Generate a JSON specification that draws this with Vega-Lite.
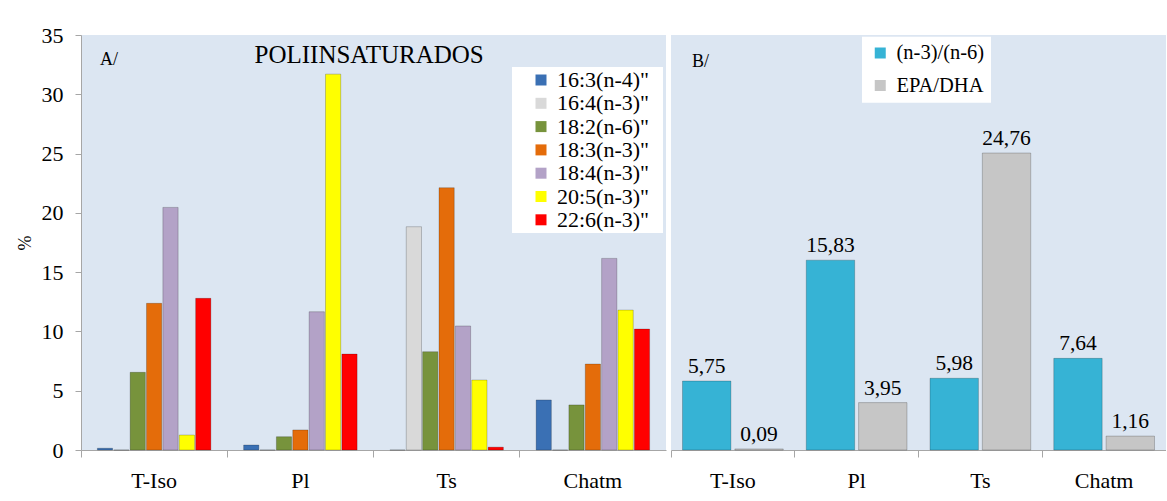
{
  "$schema": "https://vega.github.io/schema/vega-lite/v6.json",
  "padding": {"left": 16, "top": 24, "right": 0, "bottom": 0},
  "background": "white",
  "spacing": 4,
  "config": {
    "font": "Liberation Serif",
    "view": {"fill": "#dce6f2", "stroke": null},
    "locale": {"number": {"decimal": ",", "thousands": ".", "grouping": [3], "currency": ["", " €"]}},
    "axis": {"labelFont": "Liberation Serif", "labelFontSize": 22, "labelColor": "black", "domainColor": "#a6a6a6", "tickColor": "#a6a6a6", "grid": false, "titleFont": "Liberation Serif", "titleColor": "black"},
    "legend": {"labelFont": "Liberation Serif", "labelColor": "black"}
  },
  "resolve": {"scale": {"color": "independent", "y": "independent", "x": "independent", "xOffset": "independent"}},
  "datasets": {
    "acids": [
      {"sample": "T-Iso", "acid": "16:3(n-4)\"", "pct": 0.15},
      {"sample": "T-Iso", "acid": "16:4(n-3)\"", "pct": 0},
      {"sample": "T-Iso", "acid": "18:2(n-6)\"", "pct": 6.55},
      {"sample": "T-Iso", "acid": "18:3(n-3)\"", "pct": 12.37},
      {"sample": "T-Iso", "acid": "18:4(n-3)\"", "pct": 20.46},
      {"sample": "T-Iso", "acid": "20:5(n-3)\"", "pct": 1.26},
      {"sample": "T-Iso", "acid": "22:6(n-3)\"", "pct": 12.79},
      {"sample": "Pl", "acid": "16:3(n-4)\"", "pct": 0.42},
      {"sample": "Pl", "acid": "16:4(n-3)\"", "pct": 0},
      {"sample": "Pl", "acid": "18:2(n-6)\"", "pct": 1.12},
      {"sample": "Pl", "acid": "18:3(n-3)\"", "pct": 1.69},
      {"sample": "Pl", "acid": "18:4(n-3)\"", "pct": 11.66},
      {"sample": "Pl", "acid": "20:5(n-3)\"", "pct": 31.7},
      {"sample": "Pl", "acid": "22:6(n-3)\"", "pct": 8.09},
      {"sample": "Ts", "acid": "16:3(n-4)\"", "pct": 0},
      {"sample": "Ts", "acid": "16:4(n-3)\"", "pct": 18.83},
      {"sample": "Ts", "acid": "18:2(n-6)\"", "pct": 8.29},
      {"sample": "Ts", "acid": "18:3(n-3)\"", "pct": 22.12},
      {"sample": "Ts", "acid": "18:4(n-3)\"", "pct": 10.46},
      {"sample": "Ts", "acid": "20:5(n-3)\"", "pct": 5.9},
      {"sample": "Ts", "acid": "22:6(n-3)\"", "pct": 0.24},
      {"sample": "Chatm", "acid": "16:3(n-4)\"", "pct": 4.22},
      {"sample": "Chatm", "acid": "16:4(n-3)\"", "pct": 0},
      {"sample": "Chatm", "acid": "18:2(n-6)\"", "pct": 3.8},
      {"sample": "Chatm", "acid": "18:3(n-3)\"", "pct": 7.25},
      {"sample": "Chatm", "acid": "18:4(n-3)\"", "pct": 16.16},
      {"sample": "Chatm", "acid": "20:5(n-3)\"", "pct": 11.8},
      {"sample": "Chatm", "acid": "22:6(n-3)\"", "pct": 10.2}
    ],
    "ratios": [
      {"sample": "T-Iso", "ratio": "(n-3)/(n-6)", "value": 5.75},
      {"sample": "T-Iso", "ratio": "EPA/DHA", "value": 0.09},
      {"sample": "Pl", "ratio": "(n-3)/(n-6)", "value": 15.83},
      {"sample": "Pl", "ratio": "EPA/DHA", "value": 3.95},
      {"sample": "Ts", "ratio": "(n-3)/(n-6)", "value": 5.98},
      {"sample": "Ts", "ratio": "EPA/DHA", "value": 24.76},
      {"sample": "Chatm", "ratio": "(n-3)/(n-6)", "value": 7.64},
      {"sample": "Chatm", "ratio": "EPA/DHA", "value": 1.16}
    ]
  },
  "hconcat": [
    {
      "width": 585,
      "height": 415,
      "layer": [
        {
          "data": {"name": "acids"},
          "mark": {"type": "bar", "strokeWidth": 0.6, "strokeOpacity": 0.35, "stroke": "#000000"},
          "encoding": {
            "x": {"field": "sample", "type": "nominal", "sort": ["T-Iso", "Pl", "Ts", "Chatm"], "scale": {"paddingInner": 0, "paddingOuter": 0}, "axis": {"title": null, "labelAngle": 0, "bandPosition": 0, "tickSize": 7, "labelPadding": 13, "labelFont": "Liberation Serif"}},
            "xOffset": {"field": "acid", "type": "nominal", "sort": ["16:3(n-4)\"", "16:4(n-3)\"", "18:2(n-6)\"", "18:3(n-3)\"", "18:4(n-3)\"", "20:5(n-3)\"", "22:6(n-3)\""], "scale": {"paddingInner": 0.07, "paddingOuter": 1.13}},
            "y": {"field": "pct", "type": "quantitative", "scale": {"domain": [0, 35], "nice": false}, "axis": {"title": "%", "values": [0, 5, 10, 15, 20, 25, 30, 35], "tickSize": 6, "labelPadding": 12, "labelFont": "Liberation Serif", "titleFontSize": 18, "titleFontWeight": "normal", "titlePadding": 7}},
            "color": {
              "field": "acid", "type": "nominal",
              "scale": {"domain": ["16:3(n-4)\"", "16:4(n-3)\"", "18:2(n-6)\"", "18:3(n-3)\"", "18:4(n-3)\"", "20:5(n-3)\"", "22:6(n-3)\""], "range": ["#3a70b4", "#d9d9d9", "#77933c", "#e46c0a", "#b3a2c7", "#ffff00", "#ff0000"]},
              "legend": {"title": null, "orient": "none", "legendX": 431, "legendY": 32, "fillColor": "white", "padding": 2, "symbolOffset": 16, "labelOffset": 5, "rowPadding": 1.3, "labelFont": "Liberation Serif", "labelFontSize": 22, "symbolType": "square", "symbolSize": 121, "symbolStrokeWidth": 0, "labelExpr": "datum.label + '\u2002\u200b'"}
            }
          }
        },
        {
          "data": {"values": [{}]},
          "mark": {"type": "text", "align": "left", "baseline": "alphabetic", "fontSize": 18, "color": "black"},
          "encoding": {"x": {"datum": "T-Iso", "bandPosition": 0.13}, "y": {"datum": 32.47}, "text": {"value": "A/"}}
        },
        {
          "data": {"values": [{}]},
          "mark": {"type": "text", "align": "center", "baseline": "alphabetic", "fontSize": 25, "color": "black"},
          "encoding": {"x": {"datum": "Pl", "bandPosition": 0.97}, "y": {"datum": 32.64}, "text": {"value": "POLIINSATURADOS"}}
        }
      ]
    },
    {
      "width": 495,
      "height": 415,
      "layer": [
        {
          "data": {"name": "ratios"},
          "mark": {"type": "bar", "strokeWidth": 0.6, "strokeOpacity": 0.35, "stroke": "#000000"},
          "encoding": {
            "x": {"field": "sample", "type": "nominal", "sort": ["T-Iso", "Pl", "Ts", "Chatm"], "scale": {"paddingInner": 0, "paddingOuter": 0}, "axis": {"title": null, "labelAngle": 0, "bandPosition": 0, "tickSize": 7, "labelPadding": 13, "labelFont": "Liberation Serif"}},
            "xOffset": {"field": "ratio", "type": "nominal", "sort": ["(n-3)/(n-6)", "EPA/DHA"], "scale": {"paddingInner": 0.075, "paddingOuter": 0.22}},
            "y": {"field": "value", "type": "quantitative", "scale": {"domain": [0, 34.6], "nice": false}, "axis": null},
            "color": {
              "field": "ratio", "type": "nominal",
              "scale": {"domain": ["(n-3)/(n-6)", "EPA/DHA"], "range": ["#36b3d5", "#c6c6c6"]},
              "legend": {"title": null, "orient": "none", "legendX": 191, "legendY": 1.75, "fillColor": "white", "padding": 6, "symbolOffset": 2, "labelOffset": 6, "rowPadding": 11.5, "labelFont": "Liberation Serif", "labelFontSize": 20.5, "symbolType": "square", "symbolSize": 121, "symbolStrokeWidth": 0}
            }
          }
        },
        {
          "data": {"name": "ratios"},
          "mark": {"type": "text", "baseline": "alphabetic", "dy": -8, "fontSize": 21.5, "color": "black"},
          "encoding": {
            "x": {"field": "sample", "type": "nominal", "sort": ["T-Iso", "Pl", "Ts", "Chatm"]},
            "xOffset": {"field": "ratio", "type": "nominal", "sort": ["(n-3)/(n-6)", "EPA/DHA"]},
            "y": {"field": "value", "type": "quantitative"},
            "text": {"field": "value", "type": "quantitative", "format": ".2f"}
          }
        },
        {
          "data": {"values": [{}]},
          "mark": {"type": "text", "align": "left", "baseline": "alphabetic", "fontSize": 18, "color": "black"},
          "encoding": {"x": {"datum": "T-Iso", "bandPosition": 0.17}, "y": {"datum": 31.93}, "text": {"value": "B/"}}
        }
      ]
    }
  ]
}
